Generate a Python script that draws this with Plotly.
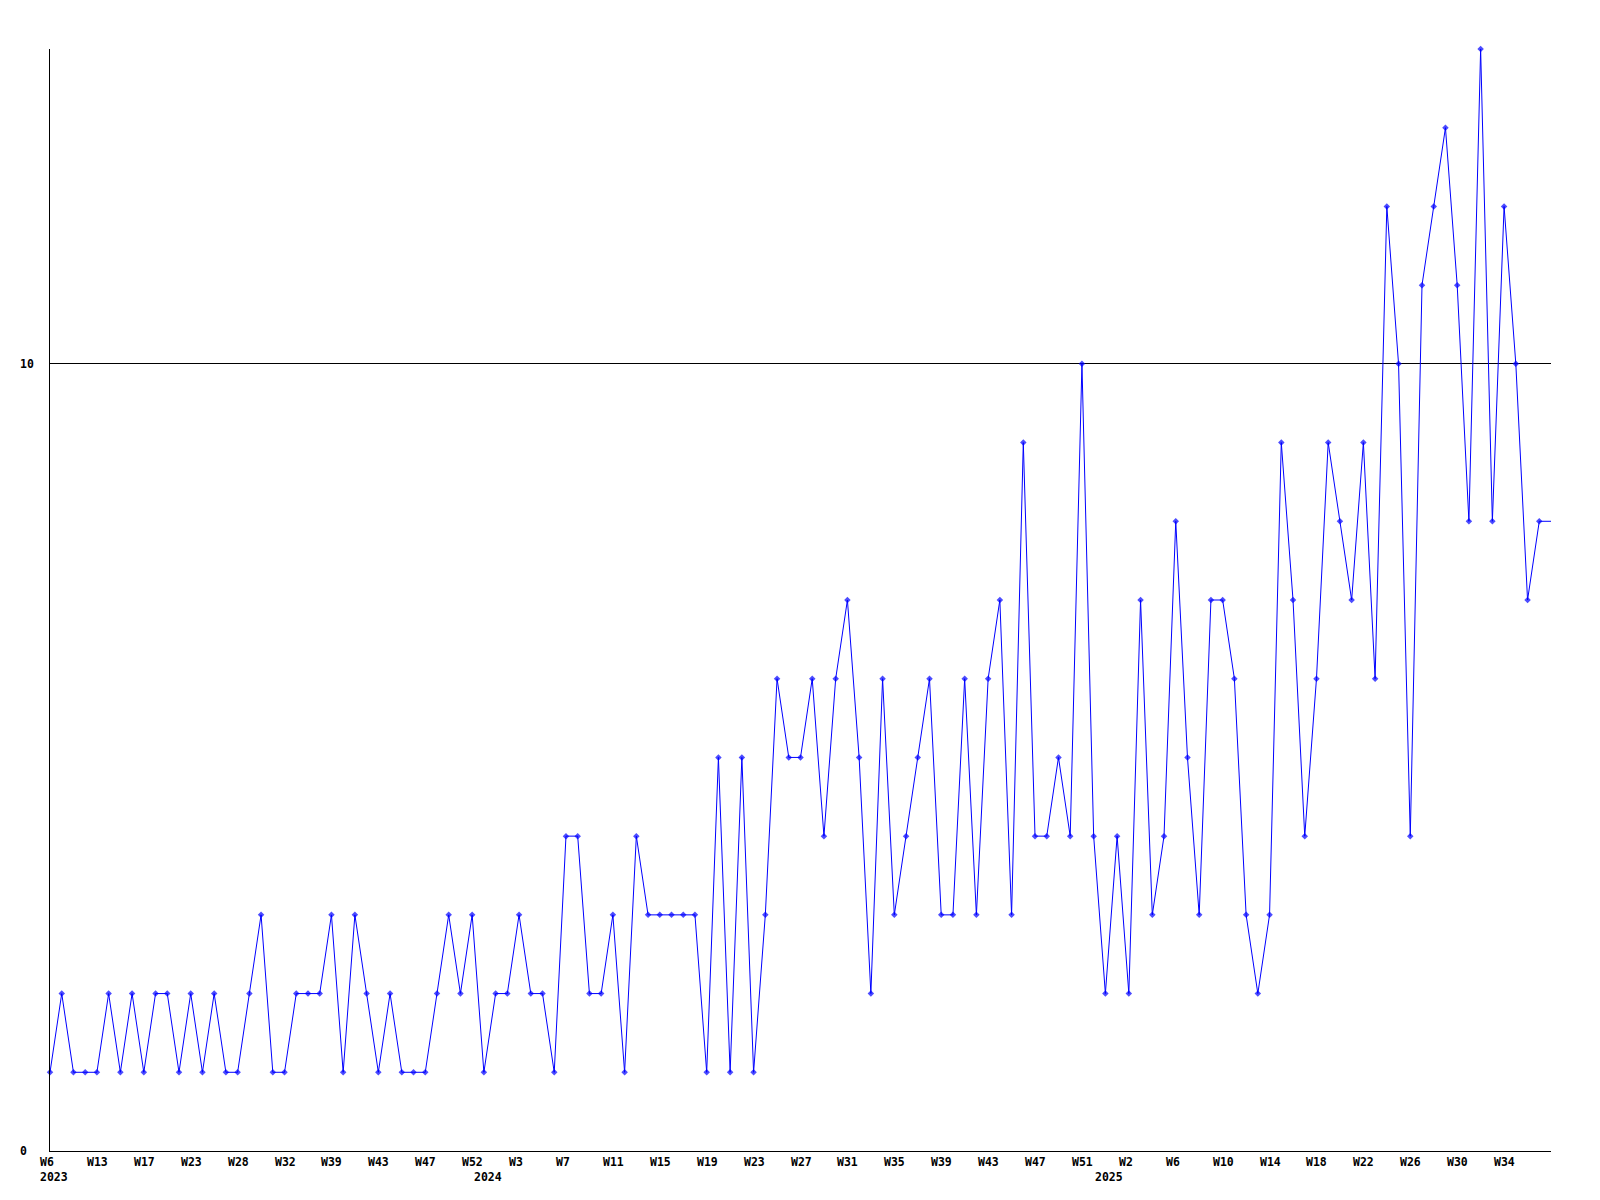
import plotly.graph_objects as go

# ---- data -------------------------------------------------------------
weeks_2023 = [6, 8, 9, 11, 13, 14, 15, 16, 17, 19, 20, 22, 23, 24, 26, 27, 28, 29,
              30, 31, 32, 34, 36, 38, 39, 40, 41, 42, 43, 44, 45, 46, 47, 48, 50, 51, 52]
counts_2023 = [1, 2, 1, 1, 1, 2, 1, 2, 1, 2, 2, 1, 2, 1, 2, 1, 1, 2, 3, 1, 1, 2, 2, 2,
               3, 1, 3, 2, 1, 2, 1, 1, 1, 2, 3, 2, 3]

weeks_2024 = [0, 1, 2, 3, 4, 5, 6, 7, 8, 9, 10, 11, 12, 13, 14, 15, 16, 17, 18, 19, 20,
              21, 22, 23, 24, 25, 26, 27, 28, 29, 30, 31, 32, 33, 34, 35, 36, 37, 38, 39,
              40, 41, 42, 43, 44, 45, 46, 47, 48, 49, 50, 51, 52]
counts_2024 = [1, 2, 2, 3, 2, 2, 1, 4, 4, 2, 2, 3, 1, 4, 3, 3, 3, 3, 3, 1, 5, 1, 5, 1,
               3, 6, 5, 5, 6, 4, 6, 7, 5, 2, 6, 3, 4, 5, 6, 3, 3, 6, 3, 6, 7, 3, 9, 4,
               4, 5, 4, 10, 4]

weeks_2025 = [0, 1, 2, 3, 4, 5, 6, 7, 8, 9, 10, 11, 12, 13, 14, 15, 16, 17, 18, 19, 20,
              21, 22, 23, 24, 25, 26, 27, 28, 29, 30, 31, 32, 33, 34, 35, 36, 37, 38]
counts_2025 = [2, 4, 2, 7, 3, 4, 8, 5, 3, 7, 7, 6, 3, 2, 3, 9, 7, 4, 6, 9, 8, 7, 9, 6,
               12, 10, 4, 11, 12, 13, 11, 8, 14, 8, 12, 10, 7, 8, 8]

years = ["2023", "2024", "2025"]
y_ticks = [0, 10]

# ---- build -------------------------------------------------------------
week_groups = [weeks_2023, weeks_2024, weeks_2025]
count_groups = [counts_2023, counts_2024, counts_2025]

labels, values, year_start = [], [], []
for yr, wk, ct in zip(years, week_groups, count_groups):
    year_start.append(len(labels))
    labels += ["W%d" % w for w in wk]
    values += ct

n = len(values)
idx = list(range(n))
marker_sizes = [5] * (n - 1) + [0]   # current (last) week drawn without marker

BLUE = "#0000ff"
FONT = dict(family="DejaVu Sans Mono", size=11.5, color="black", weight="bold")

fig = go.Figure()
fig.add_trace(go.Scatter(
    x=idx, y=values, mode="lines+markers",
    line=dict(color=BLUE, width=1),
    marker=dict(symbol="diamond", size=marker_sizes, color=BLUE, line=dict(width=0)),
    cliponaxis=False, hoverinfo="skip", showlegend=False,
))

annotations = []
for i in range(0, n - 1, 4):
    annotations.append(dict(x=i, xref="x", y=0, yref="paper", text=labels[i],
                            showarrow=False, xanchor="left", yanchor="middle",
                            xshift=-12, yshift=-11, font=FONT))
for yr, s in zip(years, year_start):
    annotations.append(dict(x=s, xref="x", y=0, yref="paper", text=yr,
                            showarrow=False, xanchor="left", yanchor="middle",
                            xshift=-12, yshift=-26, font=FONT))
for v in y_ticks:
    annotations.append(dict(x=0, xref="paper", y=v, yref="y", text=str(v),
                            showarrow=False, xanchor="left", yanchor="middle",
                            xshift=-32, font=FONT))

# page body has an 8px default margin; compensate so the plot area lands
# at the same place as in the reference picture
fig.update_layout(
    width=1584, height=1180,
    margin=dict(l=42, r=41, t=41, b=37),
    paper_bgcolor="white", plot_bgcolor="white",
    annotations=annotations,
    xaxis=dict(range=[0, n - 1], showgrid=False, zeroline=False, showticklabels=False,
               ticks="", showline=True, linecolor="black", linewidth=1, fixedrange=True),
    yaxis=dict(range=[0, 14], tickvals=y_ticks, showgrid=True, gridcolor="black",
               gridwidth=1, zeroline=False, showticklabels=False, ticks="",
               showline=True, linecolor="black", linewidth=1, fixedrange=True),
)

fig.write_html("out.html", config={"displayModeBar": False})
